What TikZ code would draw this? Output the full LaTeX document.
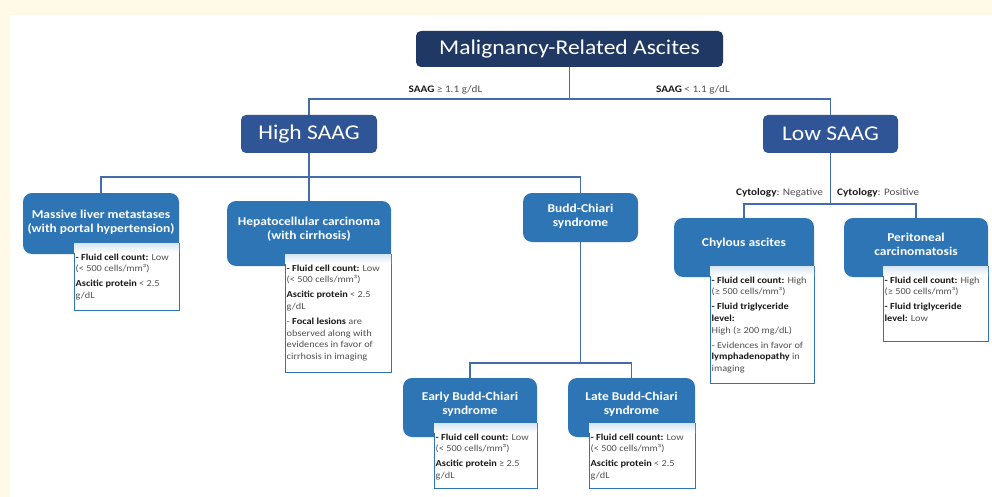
\documentclass[tikz,border=0pt]{standalone}
\usepackage{fontspec}
\setmainfont{Carlito}[FakeStretch=1.12]
\definecolor{cream}{RGB}{255,250,232}
\definecolor{navy}{RGB}{31,56,100}
\definecolor{midblue}{RGB}{47,85,151}
\definecolor{boxblue}{RGB}{46,117,182}
\definecolor{linkblue}{RGB}{68,108,170}
\definecolor{paleblue}{RGB}{214,228,242}
\definecolor{dtxt}{RGB}{25,25,25}
\definecolor{gtxt}{RGB}{80,80,80}
\newcommand{\bld}[1]{{\bfseries\color{dtxt}#1}}
\begin{document}
\begin{tikzpicture}[x=1pt,y=-1pt,
 topbox/.style={fill=navy, rounded corners=5pt, text=white, font=\fontsize{21}{25}\selectfont, inner sep=0pt},
 saagbox/.style={fill=midblue, rounded corners=5pt, text=white, font=\fontsize{21}{25}\selectfont, inner sep=0pt},
 dxbox/.style={fill=boxblue, rounded corners=9pt, inner sep=0pt},
 dxtext/.style={text=white, font=\fontsize{12}{14}\selectfont\bfseries, align=center, inner sep=0pt},
 link/.style={draw=linkblue, line width=1.2pt},
 lbl/.style={font=\fontsize{10}{12}\selectfont, text=gtxt, inner sep=0pt},
 info/.style={font=\fontsize{9.2}{11.8}\selectfont, text=gtxt, align=left, inner sep=0pt, anchor=north west},
 infobox/.style={draw=boxblue, line width=1pt, fill=white, inner sep=0pt},
 infoshade/.style={top color=paleblue, bottom color=white}
]
\useasboundingbox (0,0) rectangle (992,497);
\fill[cream] (0,0) rectangle (992,497);
\fill[white] (10,15) rectangle (992,497);

% main boxes
\node[topbox, minimum width=307pt, minimum height=36pt] (top) at (569.5,49) {Malignancy-Related Ascites};
\node[saagbox, minimum width=136pt, minimum height=38pt] (high) at (309,134) {High SAAG};
\node[saagbox, minimum width=135pt, minimum height=38pt] (low) at (830.5,134) {Low SAAG};

\node[dxbox, minimum width=156pt, minimum height=61pt] (massive) at (101,223.5) {};
\node[dxbox, minimum width=164pt, minimum height=65pt] (hep) at (309,233.5) {};
\node[dxbox, minimum width=115pt, minimum height=49pt] (budd) at (580.5,217.5) {};
\node[dxbox, minimum width=134pt, minimum height=59pt] (early) at (470,407.5) {};
\node[dxbox, minimum width=127pt, minimum height=59pt] (late) at (631.5,407.5) {};
\node[dxbox, minimum width=140pt, minimum height=59pt] (chyl) at (744,247.5) {};
\node[dxbox, minimum width=144pt, minimum height=59pt] (perit) at (916,247.5) {};

\node[dxtext] (massive-t) at ([yshift=1pt]massive.center) {Massive liver metastases\\(with portal hypertension)};
\node[dxtext] (hep-t) at ([yshift=4.5pt]hep.center) {Hepatocellular carcinoma\\(with cirrhosis)};
\node[dxtext] (budd-t) at ([yshift=1.5pt]budd.center) {Budd-Chiari\\syndrome};
\node[dxtext] (early-t) at ([yshift=3.5pt]early.center) {Early Budd-Chiari\\syndrome};
\node[dxtext] (late-t) at ([yshift=3.5pt]late.center) {Late Budd-Chiari\\syndrome};
\node[dxtext] (chyl-t) at ([yshift=4.5pt]chyl.center) {Chylous ascites};
\node[dxtext] (perit-t) at ([yshift=3.5pt]perit.center) {Peritoneal\\carcinomatosis};

% info panels
\node[infobox, minimum width=105pt, minimum height=67pt] (massive-i) at (126.5,276.5) {};
\node[infobox, minimum width=106pt, minimum height=118pt] (hep-i) at (338,313) {};
\node[infobox, minimum width=103pt, minimum height=65pt] (early-i) at (485.5,455.5) {};
\node[infobox, minimum width=106pt, minimum height=65pt] (late-i) at (642,455.5) {};
\node[infobox, minimum width=104pt, minimum height=117pt] (chyl-i) at (762,324.5) {};
\node[infobox, minimum width=105pt, minimum height=75pt] (perit-i) at (935.5,303.5) {};
\foreach \p in {massive-i,hep-i,early-i,late-i,chyl-i,perit-i}{
  \shade[infoshade] ([xshift=0.5pt,yshift=-0.5pt]\p.north west) rectangle ([xshift=-0.5pt,yshift=-10pt]\p.north east);
}

\node[info] (massive-x) at ([xshift=2pt,yshift=-11pt]massive-i.north west)
 {\bld{- Fluid cell count:} Low\\(< 500 cells/mm³)\\[3pt]\bld{Ascitic protein} < 2.5\\g/dL};
\node[info] (hep-x) at ([xshift=2pt,yshift=-11pt]hep-i.north west)
 {\bld{- Fluid cell count:} Low\\(< 500 cells/mm³)\\[3pt]\bld{Ascitic protein} < 2.5\\g/dL\\[3pt]- \bld{Focal lesions} are\\observed along with\\evidences in favor of\\cirrhosis in imaging};
\node[info] (early-x) at ([xshift=2pt,yshift=-11pt]early-i.north west)
 {\bld{- Fluid cell count:} Low\\(< 500 cells/mm³)\\[3pt]\bld{Ascitic protein} ≥ 2.5\\g/dL};
\node[info] (late-x) at ([xshift=2pt,yshift=-11pt]late-i.north west)
 {\bld{- Fluid cell count:} Low\\(< 500 cells/mm³)\\[3pt]\bld{Ascitic protein} < 2.5\\g/dL};
\node[info] (chyl-x) at ([xshift=2pt,yshift=-11pt]chyl-i.north west)
 {\bld{- Fluid cell count:} High\\(≥ 500 cells/mm³)\\[3pt]\bld{- Fluid triglyceride}\\\bld{level:}\\High (≥ 200 mg/dL)\\[3pt]- Evidences in favor of\\\bld{lymphadenopathy} in\\imaging};
\node[info] (perit-x) at ([xshift=2pt,yshift=-11pt]perit-i.north west)
 {\bld{- Fluid cell count:} High\\(≥ 500 cells/mm³)\\[3pt]\bld{- Fluid triglyceride}\\\bld{level:} Low};

% connectors
\coordinate (j1) at (569.5,99);
\coordinate (j2) at (309,177);
\coordinate (j3) at (580.5,363);
\coordinate (j4) at (830.5,204);
\draw[link] (top.south) -- (j1);
\draw[link] (high.north) |- (j1) -| (low.north);
\draw[link] (high.south) -- (hep.north);
\draw[link] (massive.north) |- (j2) -| (budd.north);
\draw[link] (budd.south) -- (j3);
\draw[link] (early.north) |- (j3) -| (late.north);
\draw[link] (low.south) -- (j4);
\draw[link] (chyl.north) |- (j4) -| (perit.north);

% labels
\node[lbl] (saag-hi) at (445.5,90) {\bld{SAAG} ≥ 1.1 g/dL};
\node[lbl] (saag-lo) at (693,90) {\bld{SAAG} < 1.1 g/dL};
\node[lbl, anchor=east] (cyt-neg) at (823,193) {\bld{Cytology}: Negative};
\node[lbl, anchor=west] (cyt-pos) at (837,193) {\bld{Cytology}: Positive};
\end{tikzpicture}
\end{document}
